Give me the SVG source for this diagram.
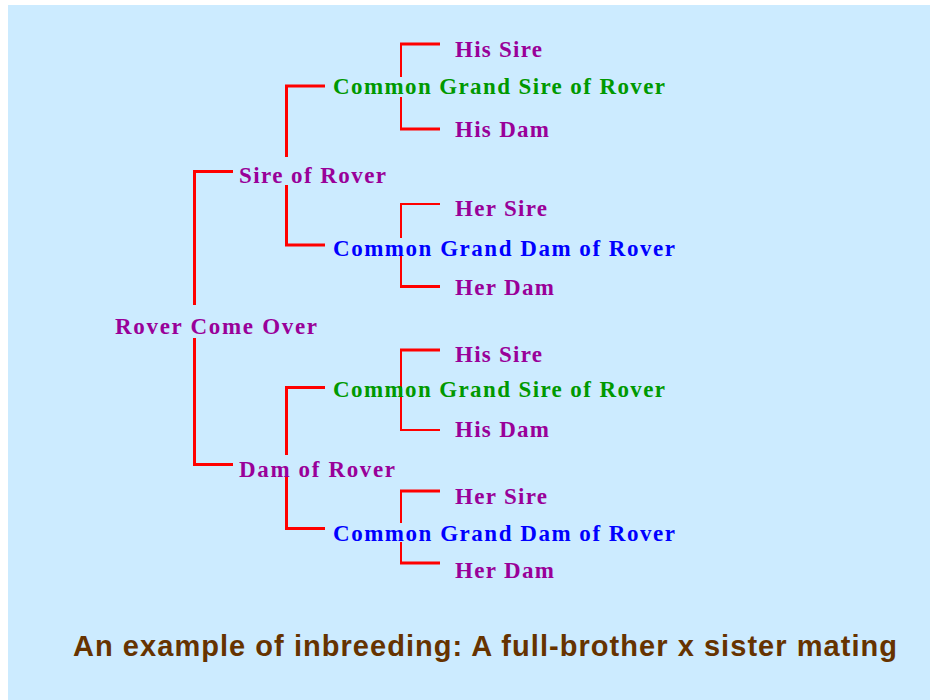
<svg xmlns="http://www.w3.org/2000/svg" width="930" height="700" viewBox="0 0 930 700">
<style>
.t{font-family:"Liberation Serif","Times New Roman",serif;font-weight:bold;font-size:23px}
.p{fill:#990099}.g{fill:#009900}.b{fill:#0000FF}
.l{fill:none;stroke:#FF0000;stroke-width:3;stroke-linecap:butt;stroke-linejoin:miter}
.n{stroke-width:2}
.cap{font-family:"Liberation Sans",Arial,sans-serif;font-weight:bold;font-size:29px;fill:#663300}
</style>
<rect x="0" y="0" width="930" height="700" fill="#FFFFFF"/>
<rect x="8" y="5" width="922" height="695" fill="#CCEBFF"/>
<g id="connectors">
<path class="l" d="M233,171.5 H194.5 V305"/>
<path class="l" d="M194.5,338 V464.5 H233"/>
<path class="l" d="M325,86 H286.5 V157"/>
<path class="l" d="M286.5,185 V245 H325"/>
<path class="l" d="M325,387.5 H286.5 V455"/>
<path class="l" d="M286.5,477 V528.5 H325"/>
<path class="l n" d="M401,77 V44"/>
<path class="l n" d="M401,97 V129"/>
<path class="l" d="M400,44 H440"/>
<path class="l" d="M400,129 H440"/>
<path class="l n" d="M440,204 H401 V238"/>
<path class="l n" d="M401,255 V286"/>
<path class="l" d="M400,286.5 H440"/>
<path class="l n" d="M401,350 V430 H440"/>
<path class="l" d="M400,350 H440"/>
<path class="l n" d="M401,491 V523"/>
<path class="l n" d="M401,542 V563"/>
<path class="l" d="M400,491 H440"/>
<path class="l" d="M400,563 H440"/>
</g>
<g id="root"><text class="t p" x="115" y="334" textLength="202" lengthAdjust="spacing">Rover Come Over</text></g>
<g id="sire"><text class="t p" x="239" y="183" textLength="147" lengthAdjust="spacing">Sire of Rover</text></g>
<g id="dam"><text class="t p" x="239" y="477" textLength="156" lengthAdjust="spacing">Dam of Rover</text></g>
<g id="gs1"><text class="t g" x="333" y="94" textLength="332" lengthAdjust="spacing">Common Grand Sire of Rover</text></g>
<g id="gd1"><text class="t b" x="333" y="256" textLength="342" lengthAdjust="spacing">Common Grand Dam of Rover</text></g>
<g id="gs2"><text class="t g" x="333" y="397" textLength="332" lengthAdjust="spacing">Common Grand Sire of Rover</text></g>
<g id="gd2"><text class="t b" x="333" y="541" textLength="342" lengthAdjust="spacing">Common Grand Dam of Rover</text></g>
<g id="hs1"><text class="t p" x="455" y="57" textLength="87" lengthAdjust="spacing">His Sire</text></g>
<g id="hd1"><text class="t p" x="455" y="137" textLength="94" lengthAdjust="spacing">His Dam</text></g>
<g id="rs1"><text class="t p" x="455" y="216" textLength="92" lengthAdjust="spacing">Her Sire</text></g>
<g id="rd1"><text class="t p" x="455" y="295" textLength="99" lengthAdjust="spacing">Her Dam</text></g>
<g id="hs2"><text class="t p" x="455" y="362" textLength="87" lengthAdjust="spacing">His Sire</text></g>
<g id="hd2"><text class="t p" x="455" y="437" textLength="94" lengthAdjust="spacing">His Dam</text></g>
<g id="rs2"><text class="t p" x="455" y="504" textLength="92" lengthAdjust="spacing">Her Sire</text></g>
<g id="rd2"><text class="t p" x="455" y="578" textLength="99" lengthAdjust="spacing">Her Dam</text></g>
<g id="caption"><text class="cap" x="73" y="656" textLength="824" lengthAdjust="spacing">An example of inbreeding: A full-brother x sister mating</text></g>
</svg>
